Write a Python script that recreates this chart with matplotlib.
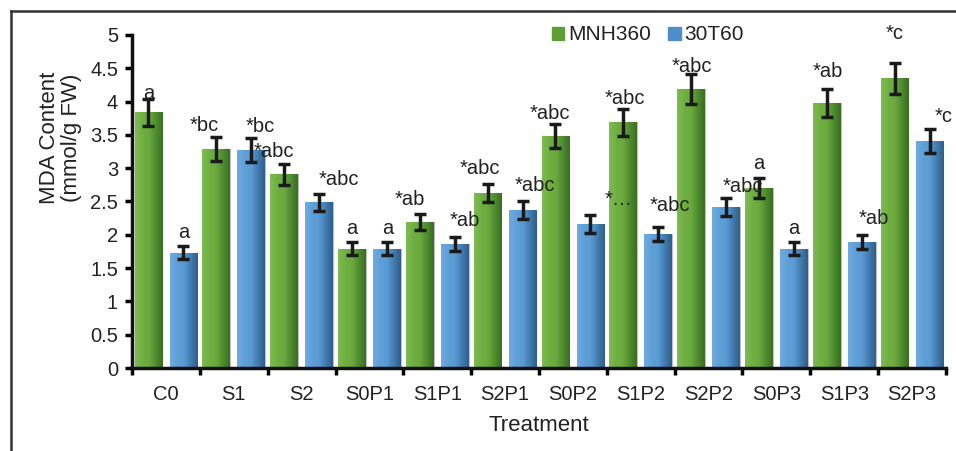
import matplotlib
matplotlib.use('Agg')
import matplotlib.pyplot as plt
import numpy as np
from matplotlib.colors import LinearSegmentedColormap
from matplotlib.lines import Line2D

plt.rcParams['font.family'] = ['Liberation Sans', 'DejaVu Sans']

# 数据
treatments = ['C0', 'S1', 'S2', 'S0P1', 'S1P1', 'S2P1', 'S0P2', 'S1P2', 'S2P2', 'S0P3', 'S1P3', 'S2P3']
mnh360 = [3.84, 3.29, 2.91, 1.79, 2.19, 2.63, 3.48, 3.69, 4.19, 2.70, 3.98, 4.35]
mnh360_err = [0.20, 0.18, 0.16, 0.10, 0.12, 0.14, 0.18, 0.20, 0.22, 0.15, 0.21, 0.23]
t30t60 = [1.73, 3.27, 2.49, 1.79, 1.86, 2.37, 2.16, 2.01, 2.42, 1.79, 1.89, 3.41]
t30t60_err = [0.10, 0.18, 0.13, 0.10, 0.10, 0.13, 0.13, 0.11, 0.14, 0.10, 0.10, 0.18]
mnh360_labels = ['a', '*bc', '*abc', 'a', '*ab', '*abc', '*abc', '*abc', '*abc', 'a', '*ab', '*c']
t30t60_labels = ['a', '*bc', '*abc', 'a', '*ab', '*abc', '*…', '*abc', '*abc', 'a', '*ab', '*c']

# 标签偏移 (像素)
mnh_off = [(0, 5), (-12, 11), (-10, 12), (0, 14), (-10, 15), (-8, 15),
           (-6, 11), (2, 10), (1, 8), (0, 15), (1, 17), (0, 29)]
t30_off = [(0, 14), (9, 12), (20, 14), (1, 14), (10, 17), (12, 16),
           (28, 16), (12, 21), (17, 11), (0, 14), (12, 17), (14, 12)]

green_cmap = LinearSegmentedColormap.from_list('g', ['#7dbc50', '#70b043', '#6aaa3d', '#4f8c2f', '#3a6e24'])
blue_cmap = LinearSegmentedColormap.from_list('b', ['#70abe0', '#60a0d8', '#5b9bd5', '#427cb0', '#2f5f8a'])

fig = plt.figure(figsize=(9.56, 4.51), dpi=100)
ax = fig.add_axes([132/956, 1-368/451, (946-132)/956, (368-35)/451])

x = np.arange(len(treatments))
w = 0.41
off = 0.258
bars_g = ax.bar(x - off, mnh360, width=w, color='#6aaa3d', edgecolor='#bfbfbf', linewidth=0.8, zorder=2)
bars_b = ax.bar(x + off, t30t60, width=w, color='#5b9bd5', edgecolor='#bfbfbf', linewidth=0.8, zorder=2)

# 渐变填充
grad = np.linspace(0, 1, 64).reshape(1, -1)
for bars, cmap in [(bars_g, green_cmap), (bars_b, blue_cmap)]:
    for b in bars:
        x0, y0 = b.get_x(), b.get_y()
        im = ax.imshow(grad, extent=[x0, x0 + b.get_width(), y0, y0 + b.get_height()],
                       cmap=cmap, aspect='auto', zorder=2.1, interpolation='bicubic')
        im.set_clip_path(b)

ax.errorbar(x - off, mnh360, yerr=mnh360_err, fmt='none', ecolor='#1a1a1a', elinewidth=2.5,
            capsize=4, capthick=2.5, zorder=3)
ax.errorbar(x + off, t30t60, yerr=t30t60_err, fmt='none', ecolor='#1a1a1a', elinewidth=2.5,
            capsize=4, capthick=2.5, zorder=3)

for i in range(len(treatments)):
    ax.annotate(mnh360_labels[i], (x[i] - off, mnh360[i] + mnh360_err[i]), xytext=mnh_off[i],
                textcoords='offset pixels', ha='center', va='center', fontsize=14.5, color='#222222', zorder=4)
    ax.annotate(t30t60_labels[i], (x[i] + off, t30t60[i] + t30t60_err[i]), xytext=t30_off[i],
                textcoords='offset pixels', ha='center', va='center', fontsize=14.5, color='#222222', zorder=4)

ax.set_xlim(-0.5, len(treatments) - 0.5)
ax.set_ylim(0, 5)
ax.set_yticks(np.arange(0, 5.01, 0.5))
ax.set_yticklabels(['0', '0.5', '1', '1.5', '2', '2.5', '3', '3.5', '4', '4.5', '5'])
ax.set_xticks(np.arange(len(treatments) + 1) - 0.5)
ax.set_xticklabels([])
ax.set_xticks(x, minor=True)
ax.set_xticklabels(treatments, minor=True)
ax.tick_params(axis='x', which='major', direction='out', length=5, width=2.5)
ax.tick_params(axis='x', which='minor', length=0, pad=12, labelsize=14.5, labelcolor='#222222')
ax.tick_params(axis='y', direction='out', length=5, width=2.5, pad=5, labelsize=14.5, labelcolor='#222222')

for s in ['top', 'right']:
    ax.spines[s].set_visible(False)
for s in ['left', 'bottom']:
    ax.spines[s].set_linewidth(2.5)
    ax.spines[s].set_color('#111111')

ax.set_ylabel('MDA Content\n(mmol/g FW)', fontsize=16, color='#222222', linespacing=1.05)
ax.yaxis.set_label_coords(-0.062, 0.69)
ax.set_xlabel('Treatment', fontsize=16, color='#222222')
ax.xaxis.set_label_coords(0.5, -0.14)

handles = [plt.Rectangle((0, 0), 1, 1, color='#5f9e37'), plt.Rectangle((0, 0), 1, 1, color='#4f8fc8')]
fig.legend(handles, ['MNH360', '30T60'], loc='center', bbox_to_anchor=(648/956, 1-35/451),
           ncol=2, frameon=False, fontsize=15, handlelength=0.6, handleheight=0.6,
           handletextpad=0.2, columnspacing=0.8, labelcolor='#222222')

# 外框
fig.add_artist(Line2D([11/956, 1], [1-11/451, 1-11/451], color='#333333', lw=1.8))
fig.add_artist(Line2D([11/956, 11/956], [0, 1-11/451], color='#333333', lw=1.8))

plt.savefig('out.png', dpi=100)
